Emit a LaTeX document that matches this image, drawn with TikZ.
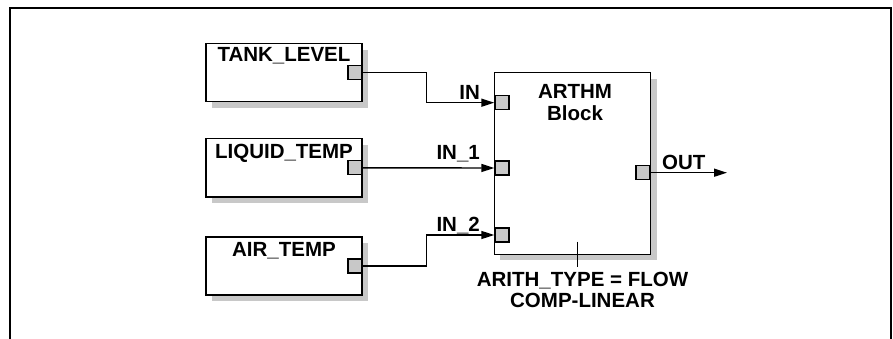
\documentclass[tikz,border=0pt]{standalone}
\usepackage{fontspec}
\setmainfont{Liberation Sans}
\usetikzlibrary{arrows.meta,shadows}
\definecolor{shadowgray}{RGB}{200,200,200}
\definecolor{portgray}{RGB}{200,200,200}

\begin{document}
\begin{tikzpicture}[x=1pt, y=-1pt,
    every node/.style={font=\fontsize{20.5}{21.5}\selectfont\bfseries},
    fbbox/.style={draw, line width=1.4pt, fill=white, inner sep=0pt,
      drop shadow={shadow xshift=6pt, shadow yshift=-6pt, fill=shadowgray, opacity=1}},
    srcbox/.style={fbbox, minimum width=156pt, minimum height=58pt},
    boxlabel/.style={anchor=north, inner sep=0pt},
    port/.style={draw, line width=1.4pt, fill=portgray, minimum size=14pt, inner sep=0pt},
    wire/.style={line width=1.4pt},
    sig/.style={wire, -{Triangle[length=13pt, width=8pt]}}]
      \useasboundingbox (0,0) rectangle (893,339);
      % open frame
      \draw[line width=2.6pt] (10,339) -- (10,8) -- (891,8) -- (891,339);

      % source blocks
      \node[srcbox] (tank) at (284,72.7) {};
      \node[boxlabel] (tanklbl) at ([yshift=-4.5pt]tank.north) {TANK\_LEVEL};
      \node[port, anchor=east] (tankout) at (tank.east) {};
      \node[srcbox] (liquid) at (284,167.8) {};
      \node[boxlabel] (liquidlbl) at ([yshift=-5.5pt]liquid.north) {LIQUID\_TEMP};
      \node[port, anchor=east] (liquidout) at (liquid.east) {};
      \node[srcbox] (air) at (284,266) {};
      \node[boxlabel] (airlbl) at ([yshift=-6pt]air.north) {AIR\_TEMP};
      \node[port, anchor=east] (airout) at (air.east) {};

      % arithmetic block
      \node[fbbox, minimum width=156.4pt, minimum height=181.6pt] (arthm) at (572.5,163.5) {};
      \node[anchor=north, align=center, inner sep=0pt] (arthmlbl) at (575,84.5) {ARTHM\\Block};
      \node[port, anchor=west] (inA) at (494.3,102.7) {};
      \node[port, anchor=west] (inB) at (494.3,168) {};
      \node[port, anchor=west] (inC) at (494.3,235) {};
      \node[port, anchor=east] (outP) at (650.7,172.7) {};
      \coordinate (outend) at (727,172.7);
      \coordinate (typetop) at (577.3,241.7);
      \node[anchor=north, align=center, inner sep=0pt] (arithtype) at (582.5,271.5) {ARITH\_TYPE = FLOW\\COMP-LINEAR};

      % connections
      \draw[sig] (tankout.east) -- ++(64,0) |- (inA.west);
      \draw[sig] (liquidout.east) -- (inB.west);
      \draw[sig] (airout.east) -- ++(64,0) |- (inC.west);
      \draw[sig] (outP.east) -- (outend);
      \draw[wire] (typetop) -- ++(0,25.6);

      % signal labels
      \node[anchor=base east, inner sep=0pt] (inAlbl) at (480,99.3) {IN};
      \node[anchor=base east, inner sep=0pt] (inBlbl) at (480,160) {IN\_1};
      \node[anchor=base east, inner sep=0pt] (inClbl) at (480,231.5) {IN\_2};
      \node[anchor=base west, inner sep=0pt] (outlbl) at (662,170) {OUT};
    \end{tikzpicture}
\end{document}
